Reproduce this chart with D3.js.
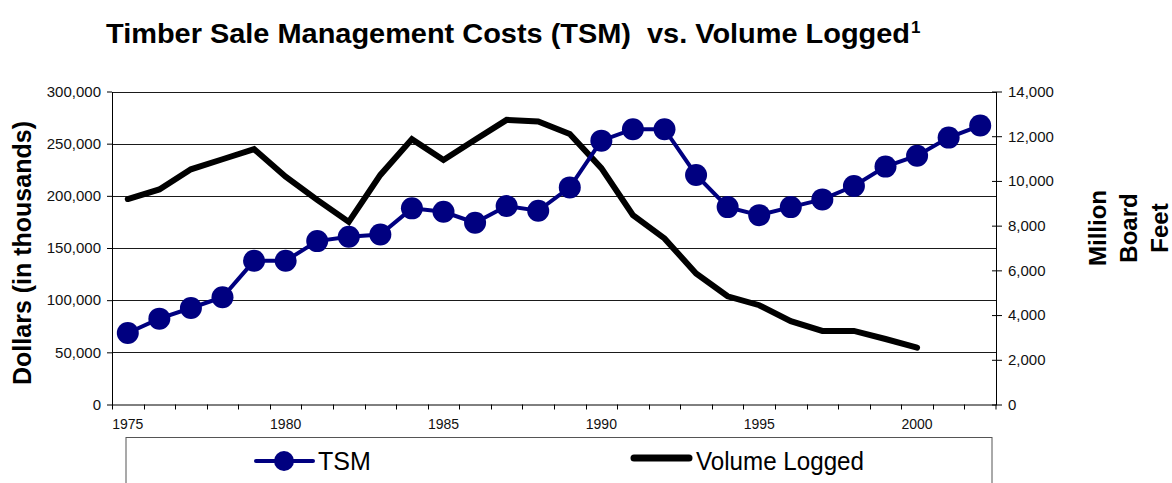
<!DOCTYPE html>
<html>
<head>
<meta charset="utf-8">
<script src="https://cdn.jsdelivr.net/npm/d3@7"></script>
<style>
  body { margin: 0; background: #fff; }
  text { font-family: "Liberation Sans", Arial, sans-serif; }
  .axis text { font-size: 15px; fill: #111; }
  .axis path, .axis line { stroke: #000; }
</style>
</head>
<body>
<div id="chart"></div>
<script>
// Data
var years = [1975, 1976, 1977, 1978, 1979, 1980, 1981, 1982, 1983, 1984, 1985, 1986, 1987, 1988,
             1989, 1990, 1991, 1992, 1993, 1994, 1995, 1996, 1997, 1998, 1999, 2000, 2001, 2002];
var tsm = [68500, 82300, 92500, 102800, 137700, 137700, 156600, 160700, 163000, 188000, 184700, 174200, 190200, 185700,
           208100, 252900, 263900, 263900, 220000, 189200, 181500, 189200, 196600, 209400, 228000, 238500, 255800, 267400];
// volume logged stops at 2000
var volumeYears = [1975, 1976, 1977, 1978, 1979, 1980, 1981, 1982, 1983, 1984, 1985, 1986, 1987,
                   1988, 1989, 1990, 1991, 1992, 1993, 1994, 1995, 1996, 1997, 1998, 1999, 2000];
var volume = [9190, 9620, 10520, 10970, 11420, 10190, 9150, 8170, 10270, 11870, 10940, 11840, 12730,
              12660, 12100, 10570, 8470, 7430, 5860, 4840, 4440, 3730, 3290, 3290, 2930, 2540];
var dollarTicks = [0, 50000, 100000, 150000, 200000, 250000, 300000];
var boardFeetTicks = [0, 2000, 4000, 6000, 8000, 10000, 12000, 14000];
var yearLabels = [1975, 1980, 1985, 1990, 1995, 2000];

// svg area and plot box
var svgWidth = 1172;
var svgHeight = 483;
var plot = { left: 112, right: 996, top: 91.5, bottom: 404.5 };

var svg = d3.select("#chart")
            .append("svg")
            .attr("width", svgWidth)
            .attr("height", svgHeight);

svg.append("rect")
   .attr("width", svgWidth)
   .attr("height", svgHeight)
   .attr("fill", "#fff");

// Scales
var xScale = d3.scaleBand()
               .domain(years)
               .range([plot.left, plot.right])
               .padding(0);
var xMid = d => xScale(d) + xScale.bandwidth() / 2;

var yLeft = d3.scaleLinear()
              .domain([0, 300000])
              .range([plot.bottom, plot.top]);

var yRight = d3.scaleLinear()
               .domain([0, 14000])
               .range([plot.bottom, plot.top]);

// Gridlines
svg.append("g")
   .selectAll("line")
   .data(dollarTicks.slice(1))
   .enter()
   .append("line")
   .attr("x1", plot.left)
   .attr("x2", plot.right)
   .attr("y1", d => Math.round(yLeft(d)) + 0.5)
   .attr("y2", d => Math.round(yLeft(d)) + 0.5)
   .attr("stroke", "#1a1a1a")
   .attr("stroke-width", 1);

// Left axis
svg.append("g")
   .attr("class", "axis")
   .attr("transform", `translate(${plot.left}, 0)`)
   .call(d3.axisLeft(yLeft)
           .tickValues(dollarTicks)
           .tickFormat(d3.format(","))
           .tickSize(5)
           .tickSizeOuter(0)
           .tickPadding(6));

// Right axis, ticks cross the line
var rightAxis = svg.append("g")
   .attr("class", "axis")
   .attr("transform", `translate(${plot.right}, 0)`)
   .call(d3.axisRight(yRight)
           .tickValues(boardFeetTicks)
           .tickFormat(d3.format(","))
           .tickSize(6)
           .tickSizeOuter(0)
           .tickPadding(6));
rightAxis.selectAll(".tick line").attr("x1", -4);

// Bottom axis: ticks at category edges, labels every five years
var xAxisGroup = svg.append("g")
   .attr("class", "axis")
   .attr("transform", `translate(0, ${plot.bottom})`)
   .call(d3.axisBottom(xScale)
           .tickValues(yearLabels)
           .tickSize(0)
           .tickSizeOuter(0)
           .tickPadding(15));
xAxisGroup.selectAll(".tick text").style("font-size", "14px");

xAxisGroup.selectAll(".edge")
   .data(years.concat(["end"]))
   .enter()
   .append("line")
   .attr("class", "edge")
   .attr("x1", d => d === "end" ? plot.right : Math.round(xScale(d)) + 0.5)
   .attr("x2", d => d === "end" ? plot.right : Math.round(xScale(d)) + 0.5)
   .attr("y1", 0)
   .attr("y2", 5)
   .attr("stroke", "#000");

// Volume logged line
var volumeLine = d3.line()
   .x((d, i) => xMid(volumeYears[i]))
   .y(d => yRight(d));

svg.append("path")
   .datum(volume)
   .attr("d", volumeLine)
   .attr("fill", "none")
   .attr("stroke", "#000")
   .attr("stroke-width", 6)
   .attr("stroke-linejoin", "miter")
   .attr("stroke-linecap", "round");

// TSM line with markers
var tsmLine = d3.line()
   .x((d, i) => xMid(years[i]))
   .y(d => yLeft(d));

svg.append("path")
   .datum(tsm)
   .attr("d", tsmLine)
   .attr("fill", "none")
   .attr("stroke", "#000080")
   .attr("stroke-width", 4);

svg.append("g")
   .selectAll("circle")
   .data(tsm)
   .enter()
   .append("circle")
   .attr("cx", (d, i) => xMid(years[i]))
   .attr("cy", d => yLeft(d))
   .attr("r", 11)
   .attr("fill", "#000080");

// Title (double space kept as in the original)
var title = svg.append("text")
   .attr("x", 106)
   .attr("y", 42.5)
   .attr("xml:space", "preserve")
   .style("white-space", "pre")
   .style("font-size", "28px")
   .style("font-weight", "bold")
   .attr("fill", "#000");
title.append("tspan")
   .attr("textLength", 804)
   .attr("lengthAdjust", "spacingAndGlyphs")
   .text("Timber Sale Management Costs (TSM)  vs. Volume Logged");
title.append("tspan")
   .attr("x", 911)
   .attr("y", 33)
   .style("font-size", "17px")
   .text("1");

// Axis labels
svg.append("text")
   .attr("transform", `translate(31, 253) rotate(-90)`)
   .attr("text-anchor", "middle")
   .style("font-size", "25px")
   .style("font-weight", "bold")
   .text("Dollars (in thousands)");

var rightLabel = svg.append("text")
   .attr("transform", `translate(1106, 228) rotate(-90)`)
   .attr("text-anchor", "middle")
   .style("font-size", "24px")
   .style("font-weight", "bold");
["Million", "Board", "Feet"].forEach(function(word, i) {
    rightLabel.append("tspan")
       .attr("x", 0)
       .attr("dy", i === 0 ? 0 : 31)
       .text(word);
});

// Legend
svg.append("rect")
   .attr("x", 126)
   .attr("y", 437.5)
   .attr("width", 866)
   .attr("height", 80)
   .attr("fill", "none")
   .attr("stroke", "#555")
   .attr("stroke-width", 1);

var legend = svg.append("g");
legend.append("line")
   .attr("x1", 256).attr("x2", 313)
   .attr("y1", 461).attr("y2", 461)
   .attr("stroke", "#000080")
   .attr("stroke-width", 4)
   .attr("stroke-linecap", "round");
legend.append("circle")
   .attr("cx", 284).attr("cy", 461).attr("r", 10)
   .attr("fill", "#000080");
legend.append("text")
   .attr("x", 318).attr("y", 470)
   .style("font-size", "25px")
   .text("TSM");

legend.append("line")
   .attr("x1", 634).attr("x2", 689)
   .attr("y1", 458).attr("y2", 458)
   .attr("stroke", "#000")
   .attr("stroke-width", 7)
   .attr("stroke-linecap", "round");
legend.append("text")
   .attr("x", 696).attr("y", 470)
   .style("font-size", "25px")
   .attr("textLength", 168)
   .attr("lengthAdjust", "spacingAndGlyphs")
   .text("Volume Logged");
</script>
</body>
</html>
